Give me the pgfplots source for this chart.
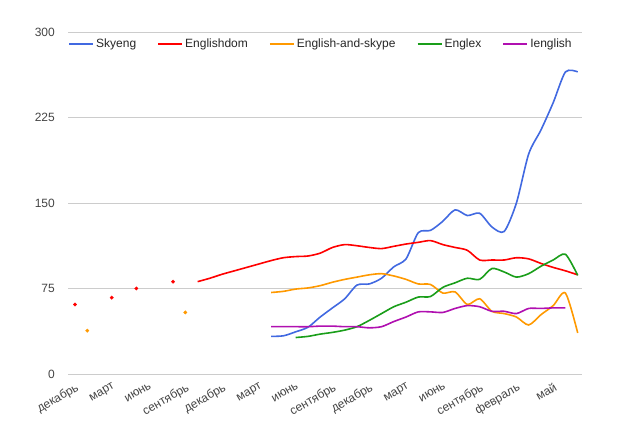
\documentclass[border=0pt]{standalone}
\usepackage{fontspec}
\setmainfont{Liberation Sans}
\usepackage{pgfplots}
\pgfplotsset{compat=1.18}
\usepackage{pgfplotstable}

\definecolor{cblue}{HTML}{4169E1}
\definecolor{cred}{HTML}{FF0000}
\definecolor{corange}{HTML}{FF9900}
\definecolor{cgreen}{HTML}{1A9E1A}
\definecolor{cpurple}{HTML}{B010B0}
\definecolor{ctext}{HTML}{444444}

% month index (0 = first December), value
\pgfplotstableread{
m v
16 33
17 33.5
18 37
19 41
20 50
21 58
22 66
23 78
24 79
25 84
26 94
27 101
28 124
29 126
30 134
31 144
32 139
33 141
34 129
35 125
36 150
37 193
38 214
39 238
40 265
41 265
}\skyeng

\pgfplotstableread{
m v
10 81
11 84
12 87.5
13 90.5
14 93.5
15 96.5
16 99.5
17 102
18 103
19 103.5
20 106
21 111
22 113.5
23 112.5
24 111
25 110
26 112
27 114
28 115.5
29 117
30 113.5
31 111
32 108.5
33 100
34 100
35 100
36 102
37 101
38 97
39 93.5
40 90.5
41 87
}\englishdom

\pgfplotstableread{
m v
0 61
3 67
5 75
8 81
}\englishdomdots

\pgfplotstableread{
m v
16 71.5
17 72.5
18 74.5
19 75.5
20 77.5
21 80.5
22 83
23 85
24 87
25 88
26 86
27 83
28 79
29 78.5
30 71
31 72
32 61
33 66
34 55
35 53
36 50
37 43
38 52
39 60
40 71
41 36
}\easkype

\pgfplotstableread{
m v
1 38
9 54
}\easkypedots

\pgfplotstableread{
m v
18 32
19 33
20 35
21 36.5
22 38.5
23 41.5
24 47
25 53
26 59
27 63
28 67.5
29 68
30 76
31 80
32 84
33 83
34 92.5
35 89.5
36 85
37 88
38 94.5
39 100
40 105
41 86.5
}\englex

\pgfplotstableread{
m v
16 41.5
17 41.5
18 41.5
19 41.5
20 42
21 42
22 41.5
23 41.5
24 40.5
25 41.5
26 46
27 50
28 54.5
29 54.5
30 54
31 57.5
32 60
33 59
34 55
35 55
36 53
37 57.5
38 57.5
39 58
40 58
}\ienglish

\begin{document}
\fontsize{12bp}{14bp}\selectfont
\begin{tikzpicture}
\useasboundingbox (-68bp,-70bp) rectangle (566bp,374bp);
\begin{axis}[
  at={(0,0)}, anchor=south west,
  scale only axis,
  width=514bp, height=342bp,
  xmin=-0.571, xmax=41.35,
  ymin=0, ymax=300,
  axis line style={draw=none},
  major tick length=0pt,
  xtick={0,3,...,39},
  xticklabels={декабрь,март,июнь,сентябрь,декабрь,март,июнь,сентябрь,декабрь,март,июнь,сентябрь,февраль,май},
  ytick={0,75,150,225,300},
  ymajorgrids,
  major grid style={color=black!20, line width=0.8bp},
  extra y ticks={0},
  extra y tick labels={},
  extra y tick style={grid style={color=black!40, line width=1.2bp}},
  /pgf/number format/assume math mode=true,
  tick label style={font=\fontsize{12bp}{14bp}\selectfont, text=ctext},
  yticklabel style={anchor=east, xshift=-9bp},
  xticklabel style={rotate=30, anchor=north east, inner sep=1bp, yshift=-6bp, xshift=-3bp},
  legend columns=5,
  legend style={draw=none, fill=none, at={(0,0.965)}, anchor=west,
    inner sep=0pt, font=\fontsize{12bp}{14bp}\selectfont, text=black!85,
    /tikz/every even column/.append style={column sep=19bp}},
  legend cell align=left,
  legend image code/.code={\draw[#1, line width=2bp] (0bp,0bp) -- (24bp,0bp);},
  every axis plot/.append style={line width=1.6bp, smooth, tension=0.45},
]
\addplot[cblue, no markers] table[x=m, y=v] {\skyeng};
\addlegendentry{Skyeng}
\addplot[cred, no markers] table[x=m, y=v] {\englishdom};
\addlegendentry{Englishdom}
\addplot[corange, no markers] table[x=m, y=v] {\easkype};
\addlegendentry{English-and-skype}
\addplot[cgreen, no markers] table[x=m, y=v] {\englex};
\addlegendentry{Englex}
\addplot[cpurple, no markers] table[x=m, y=v] {\ienglish};
\addlegendentry{Ienglish}
\addplot[only marks, mark=*, mark size=1.8bp, color=cred, mark options={line width=0.2bp}, forget plot] table[x=m, y=v] {\englishdomdots};
\addplot[only marks, mark=*, mark size=1.8bp, color=corange, mark options={line width=0.2bp}, forget plot] table[x=m, y=v] {\easkypedots};
\end{axis}
\end{tikzpicture}
\end{document}
